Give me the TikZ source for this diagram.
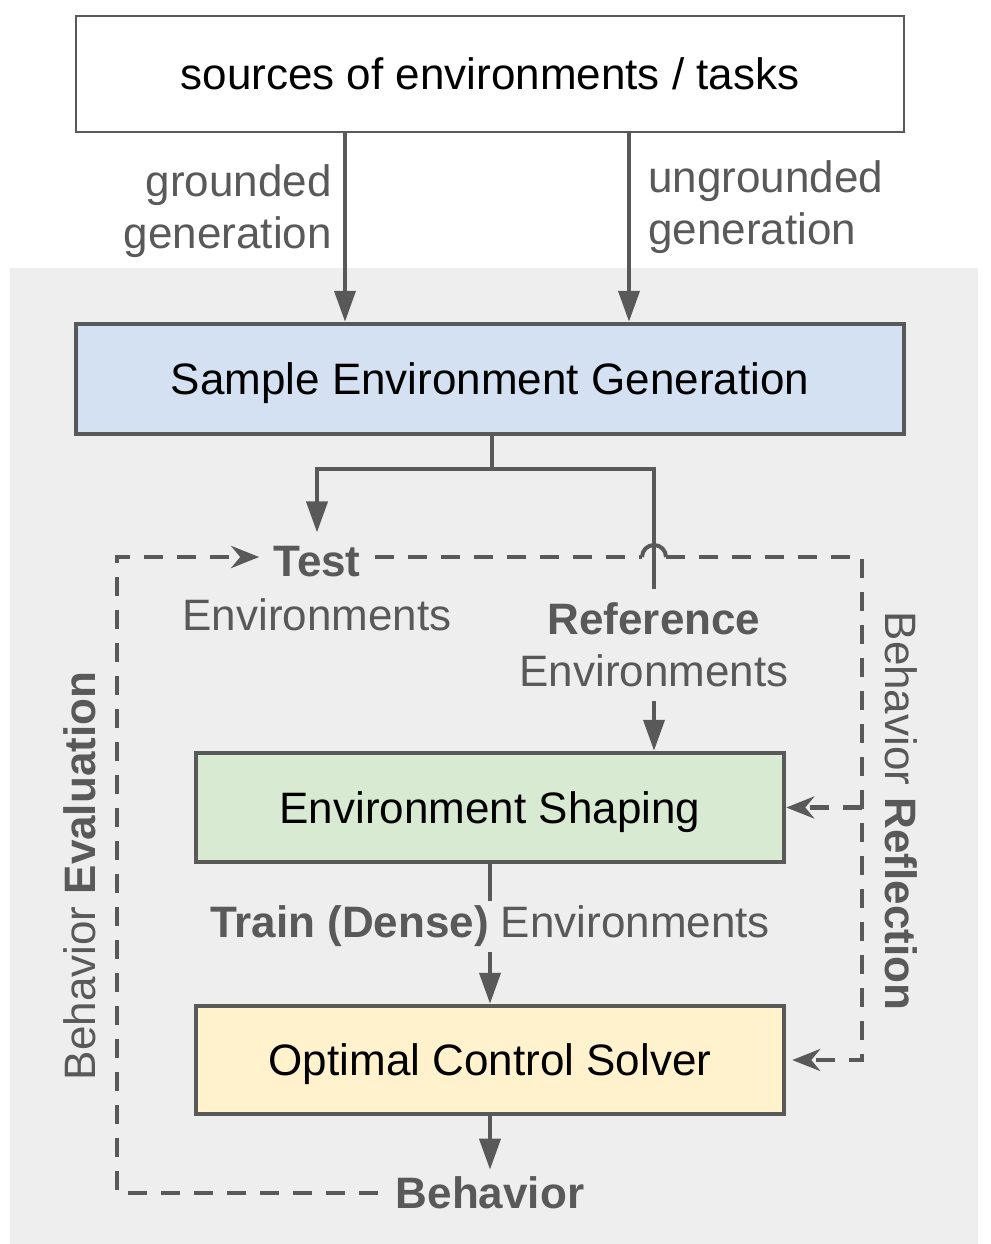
\documentclass[tikz,border=0pt]{standalone}
\usepackage{fontspec}
\setmainfont{Liberation Sans}
\usetikzlibrary{arrows.meta}
\definecolor{linegray}{HTML}{595959}
\definecolor{bggray}{HTML}{EEEEEE}
\definecolor{genblue}{HTML}{D4E1F2}
\definecolor{shapegreen}{HTML}{D9EAD3}
\definecolor{solveryellow}{HTML}{FFF2CC}

\begin{document}
\begin{tikzpicture}[x=1pt,y=-1pt,
		font=\fontsize{44}{52}\selectfont,
		box/.style={draw=linegray, line width=4.5pt, inner sep=0pt, text depth=0pt},
		lbl/.style={text=linegray, inner sep=14pt},
		conn/.style={draw=linegray, line width=4pt},
		arr/.style={conn, -{Triangle[length=31pt,width=21pt]}},
		dashline/.style={conn, line width=4.5pt, dash pattern=on 19pt off 14pt},
		dasharr/.style={dashline, -{Stealth[length=28pt,width=22pt,inset=9pt]}}]
		\useasboundingbox (0,0) rectangle (990,1244);
		\fill [bggray] (10,268) rectangle (978,1244);

		% boxes
		\node [draw=linegray, line width=2pt, fill=white, inner sep=0pt, text depth=0pt, minimum width=828pt, minimum height=116pt](sources) at (490,74) {sources of environments / tasks};
		\node [box, fill=genblue, minimum width=828pt, minimum height=110pt](blue) at (490,379) {Sample Environment Generation};
		\node [box, fill=shapegreen, minimum width=588pt, minimum height=109pt](green) at (490,807.5) {Environment Shaping};
		\node [box, fill=solveryellow, minimum width=588pt, minimum height=108pt](yellow) at (490,1060) {Optimal Control Solver};

		% labels
		\node [lbl, align=right, anchor=east, inner sep=0pt](grounded) at (332,211) {grounded\\generation};
		\node [lbl, align=left, anchor=west, inner sep=0pt](ungrounded) at (648,207) {ungrounded\\generation};
		\node [lbl](test) at (317,562) {\textbf{Test}};
		\node [lbl](testenv) at (317,615) {Environments};
		\node [lbl](ref) at (654,619) {\textbf{Reference}};
		\node [lbl](refenv) at (654,671) {Environments};
		\node [lbl, inner xsep=18pt, inner ysep=7pt](behav) at (490,1193) {\textbf{Behavior}};
		\node [lbl, rotate=90](evallbl) at (80,876) {Behavior \textbf{Evaluation}};
		\node [lbl, rotate=-90](refllbl) at (901,811) {Behavior \textbf{Reflection}};

		% solid connectors
		\draw [arr]([xshift=-145pt]sources.south) -- ([xshift=-145pt]blue.north);
		\draw [arr]([xshift=139pt]sources.south) -- ([xshift=139pt]blue.north);
		\coordinate (split) at (492,469);
		\draw [conn](blue.south -| split) -- (split);
		\draw [arr](split) -| (test.north);
		\draw [conn](split) -| (ref.north);
		\draw [arr](refenv.south) -- (refenv.south |- green.north);
		\draw [arr](green.south) -- (yellow.north);
		\node [lbl, fill=bggray, inner sep=5pt](train) at (490,926) {\textbf{Train (Dense)} Environments};
		\draw [arr](yellow.south) -- (behav.north);

		% dashed loops
		\coordinate (evaltl) at (117,557);
		\coordinate (evalbl) at (117,1193);
		\coordinate (hop) at (654,557);
		\coordinate (refltr) at (862,557);
		\draw [dasharr](behav.west) -- (evalbl) -- (evaltl) -- (evaltl -| test.west);
		\draw [dashline](evaltl -| test.east) -- ([xshift=-12pt]hop);
		\draw [conn]([xshift=-12pt]hop) arc [start angle=180, end angle=0, radius=12pt];
		\draw [dasharr]([xshift=12pt]hop) -- (refltr) -- (refltr |- yellow.east) -- ([xshift=6pt]yellow.east);
		\draw [dasharr](refltr |- green.east) -- (green.east);
	\end{tikzpicture}
\end{document}
